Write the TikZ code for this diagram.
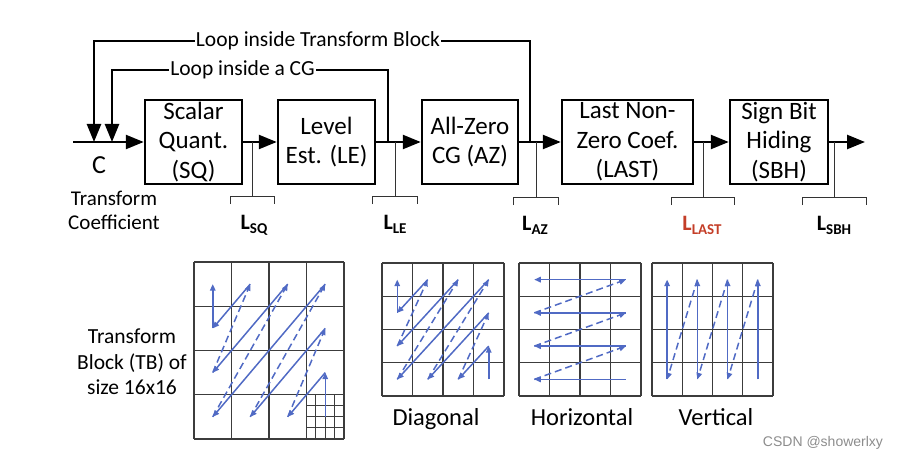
\documentclass[tikz,border=0pt]{standalone}
\usepackage{fontspec}
\setmainfont{Carlito}
\newfontfamily\wmfont{Liberation Sans}
\usetikzlibrary{arrows.meta}
\definecolor{scanblue}{RGB}{80,106,196}
\definecolor{gridgray}{RGB}{60,60,60}
\definecolor{lastred}{RGB}{196,62,40}
\newcommand\mydiagscan{%
  \draw[sc] (3.5,3.5) -- (3.5,2.5);
  \draw[sc] (3.5,2.5) -- (2.5,3.5);
  \draw[scd] (2.5,3.5) -- (3.5,1.5);
  \draw[sc] (3.5,1.5) -- (1.5,3.5);
  \draw[scd] (1.5,3.5) -- (3.5,0.5);
  \draw[sc] (3.5,0.5) -- (0.5,3.5);
  \draw[scd] (0.5,3.5) -- (2.5,0.5);
  \draw[sc] (2.5,0.5) -- (0.5,2.5);
  \draw[scd] (0.5,2.5) -- (1.5,0.5);
  \draw[sc] (1.5,0.5) -- (0.5,1.5);
  \draw[sc] (0.5,1.5) -- (0.5,0.5);}
\newcommand\mygridfour{%
  \foreach \i in {0,...,4} {\draw[grd] (\i,0) -- (\i,4); \draw[grd] (0,\i) -- (4,\i);}}
\begin{document}
\begin{tikzpicture}[x=1pt,y=-1pt,
  blk/.style={draw, line width=2.5pt, inner sep=0pt, align=center,
    font=\fontsize{25}{29.5}\selectfont, minimum height=84pt},
  mainln/.style={line width=2.5pt, -{Triangle[length=18pt,width=14pt]}},
  loopln/.style={line width=2.5pt},
  looptxt/.style={font=\fontsize{21.5}{24}\selectfont, inner sep=1pt},
  tapln/.style={line width=0.9pt, draw=black!80},
  lbl/.style={font=\fontsize{22}{24}\selectfont\bfseries, anchor=base, inner sep=0pt},
  grd/.style={draw=gridgray, line width=1.4pt},
  sc/.style={draw=scanblue, line width=1.5pt, -{Triangle[length=6.5pt,width=5.5pt]}},
  scd/.style={sc, dash pattern=on 7pt off 4pt},
  scanlbl/.style={font=\fontsize{24.5}{26}\selectfont, anchor=base, inner sep=0pt},
]
\useasboundingbox (0,0) rectangle (898,460);

% blocks
\node[blk, minimum width=97pt] (SQ) at (193.5,142) {Scalar\\Quant.\\(SQ)};
\node[blk, minimum width=97pt] (LE) at (326.5,142) {Level\\Est. (LE)};
\node[blk, minimum width=96pt] (AZ) at (470,142) {All-Zero\\CG (AZ)};
\node[blk, minimum width=131pt] (LAST) at (627.5,142) {Last Non-\\Zero Coef.\\(LAST)};
\node[blk, minimum width=98pt] (SBH) at (779,142) {Sign Bit\\Hiding\\(SBH)};

% main line
\coordinate (cin) at (73,142);
\coordinate (cout) at (865,142);
\draw[mainln] (cin) -- (SQ.west);
\draw[mainln] (SQ.east) -- (LE.west);
\draw[mainln] (LE.east) -- (AZ.west);
\draw[mainln] (AZ.east) -- (LAST.west);
\draw[mainln] (LAST.east) -- (SBH.west);
\draw[mainln] (SBH.east) -- (cout);

% loops
\node[looptxt] (TBtxt) at (318,41) {Loop inside Transform Block};
\node[looptxt] (CGtxt) at (242.5,70) {Loop inside a CG};
\coordinate (oTB) at (530,142);
\coordinate (iTB) at (94,142);
\coordinate (oCG) at (388,142);
\coordinate (iCG) at (112,142);
\draw[loopln] (oTB) |- (TBtxt.east);
\draw[mainln] (TBtxt.west) -| (iTB);
\draw[loopln] (oCG) |- (CGtxt.east);
\draw[mainln] (CGtxt.west) -| (iCG);

% input labels
\node[font=\fontsize{26}{26}\selectfont, inner sep=0pt] (C) at (99,165) {C};
\node[align=center, font=\fontsize{21}{24}\selectfont, inner sep=0pt] (TC) at (114,210) {Transform\\Coefficient};

% taps and brackets
\coordinate (tSQ) at (252,142);
\coordinate (tLE) at (395,142);
\coordinate (tAZ) at (536,142);
\coordinate (tLAST) at (703,142);
\coordinate (tSBH) at (834,142);
\draw[tapln] (tSQ) -- ++(0,54) ++(-22,8) -- ++(0,-8) -- ++(44,0) -- ++(0,8);
\draw[tapln] (tLE) -- ++(0,54) ++(-22.5,8) -- ++(0,-8) -- ++(45,0) -- ++(0,8);
\draw[tapln] (tAZ) -- ++(0,55) ++(-22.5,8) -- ++(0,-8) -- ++(45,0) -- ++(0,8);
\draw[tapln] (tLAST) -- ++(0,55) ++(-31.5,8) -- ++(0,-8) -- ++(63,0) -- ++(0,8);
\draw[tapln] (tSBH) -- ++(0,55) ++(-32,8) -- ++(0,-8) -- ++(64,0) -- ++(0,8);
\node[lbl] (LSQ) at (254,229) {L\raisebox{-4pt}{\fontsize{15}{15}\selectfont SQ}};
\node[lbl] (LLE) at (395,229) {L\raisebox{-4pt}{\fontsize{15}{15}\selectfont LE}};
\node[lbl] (LAZ) at (535,230) {L\raisebox{-4pt}{\fontsize{15}{15}\selectfont AZ}};
\node[lbl, text=lastred] (LLAST) at (702,230) {L\raisebox{-4pt}{\fontsize{15}{15}\selectfont LAST}};
\node[lbl] (LSBH) at (834,230) {L\raisebox{-4pt}{\fontsize{15}{15}\selectfont SBH}};

% big transform block 16x16
\node[align=center, font=\fontsize{21.5}{25.5}\selectfont, inner sep=0pt] (TBlbl) at (132,362) {Transform\\Block (TB) of\\size 16x16};
\begin{scope}[shift={(194pt,-262pt)}, x=37.5pt, y=-44.25pt]
  \mygridfour
  \foreach \i in {1,2,3} {\draw[grd, line width=1pt] (3+\i/4,3) -- (3+\i/4,4); \draw[grd, line width=1pt] (3,3+\i/4) -- (4,3+\i/4);}
  \mydiagscan
\end{scope}

% diagonal
\begin{scope}[shift={(382pt,-263pt)}, x=30.5pt, y=-33.25pt]
  \mygridfour
  \mydiagscan
\end{scope}
\node[scanlbl] (Ldiag) at (436,425) {Diagonal};

% horizontal
\begin{scope}[shift={(519pt,-263pt)}, x=30.5pt, y=-33.25pt]
  \mygridfour
  \draw[sc] (3.5,3.5) -- (0.5,3.5);
  \draw[scd] (0.5,3.5) -- (3.5,2.5);
  \draw[sc] (3.5,2.5) -- (0.5,2.5);
  \draw[scd] (0.5,2.5) -- (3.5,1.5);
  \draw[sc] (3.5,1.5) -- (0.5,1.5);
  \draw[scd] (0.5,1.5) -- (3.5,0.5);
  \draw[sc] (3.5,0.5) -- (0.5,0.5);
\end{scope}
\node[scanlbl] (Lhor) at (582,425) {Horizontal};

% vertical
\begin{scope}[shift={(652pt,-263pt)}, x=30.25pt, y=-33.25pt]
  \mygridfour
  \draw[sc] (3.5,3.5) -- (3.5,0.5);
  \draw[scd] (3.5,0.5) -- (2.5,3.5);
  \draw[sc] (2.5,3.5) -- (2.5,0.5);
  \draw[scd] (2.5,0.5) -- (1.5,3.5);
  \draw[sc] (1.5,3.5) -- (1.5,0.5);
  \draw[scd] (1.5,0.5) -- (0.5,3.5);
  \draw[sc] (0.5,3.5) -- (0.5,0.5);
\end{scope}
\node[scanlbl] (Lver) at (716,425) {Vertical};

% watermark
\node[font=\wmfont\fontsize{14}{14}\selectfont, text=black!45, inner sep=0pt] (wm) at (823,443) {CSDN @showerlxy};
\end{tikzpicture}
\end{document}
